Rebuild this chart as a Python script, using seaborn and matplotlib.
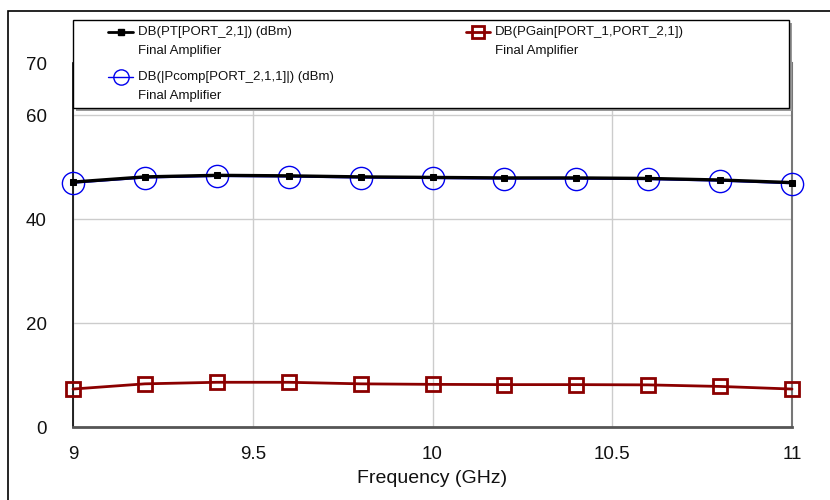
import numpy as np
import pandas as pd
import matplotlib
matplotlib.use("Agg")
import matplotlib.pyplot as plt
import seaborn as sns
from matplotlib.lines import Line2D
from matplotlib.patches import Rectangle

# Data
freq = [9.0, 9.2, 9.4, 9.6, 9.8, 10.0, 10.2, 10.4, 10.6, 10.8, 11.0]
pt_dbm = [47.1, 48.1, 48.4, 48.3, 48.1, 48.0, 47.9, 47.9, 47.8, 47.5, 47.0]
pcomp_dbm = [46.9, 47.9, 48.2, 48.1, 47.9, 47.8, 47.7, 47.7, 47.6, 47.3, 46.8]
pgain_db = [7.3, 8.3, 8.6, 8.6, 8.3, 8.2, 8.15, 8.15, 8.1, 7.8, 7.3]

series_names = ["DB(PT[PORT_2,1]) (dBm)",
                "DB(|Pcomp[PORT_2,1,1]|) (dBm)",
                "DB(PGain[PORT_1,PORT_2,1])"]
source_name = "Final Amplifier"
xticks = [9, 9.5, 10, 10.5, 11]
xticklabels = ["9", "9.5", "10", "10.5", "11"]
yticks = [0, 20, 40, 60, 70]

df = pd.DataFrame({"freq": freq, "pt": pt_dbm, "pcomp": pcomp_dbm, "pgain": pgain_db})

sns.set_style("white")
plt.rcParams['font.family'] = ['Liberation Sans', 'DejaVu Sans']

W, H = 830, 500
fig = plt.figure(figsize=(8.3, 5.0), dpi=100)
ax = fig.add_axes([73 / W, 1 - 427 / H, 719 / W, (427 - 63) / H])

blue = "#0000ee"
red = "#8b0000"

sns.lineplot(data=df, x="freq", y="pgain", ax=ax, color=red, lw=2,
             marker="s", markersize=10, markerfacecolor="none",
             markeredgecolor=red, markeredgewidth=2, zorder=3, clip_on=False)
sns.lineplot(data=df, x="freq", y="pcomp", ax=ax, color=blue, lw=1,
             marker="o", markersize=16, markerfacecolor="none",
             markeredgecolor=blue, markeredgewidth=1, zorder=3, clip_on=False)
sns.lineplot(data=df, x="freq", y="pt", ax=ax, color="black", lw=2.4,
             marker="s", markersize=5, markerfacecolor="black",
             markeredgecolor="black", zorder=4, clip_on=False)

ax.set_xlim(9, 11)
ax.set_ylim(0, 70)
ax.set_xticks(xticks)
ax.set_xticklabels(xticklabels)
ax.set_yticks(yticks)
ax.tick_params(axis="both", labelsize=13.5, direction="out", length=16,
               width=1.3, color="#555555", pad=3, labelcolor="#111111")
ax.tick_params(axis="x", length=8, pad=6)
ax.grid(True, color="#cccccc", lw=1)
ax.spines["top"].set_visible(False)
ax.spines["left"].set_color("black")
ax.spines["left"].set_linewidth(1.2)
ax.spines["bottom"].set_color("#555555")
ax.spines["bottom"].set_linewidth(2)
ax.spines["right"].set_color("#777777")
ax.spines["right"].set_linewidth(1.5)
ax.set_xlabel("Frequency (GHz)", fontsize=14, labelpad=5, color="#111111")
ax.set_ylabel("")

# legend box (drawn by hand, as in the original tool)
def fx(px):
    return px / W

def fy(py):
    return 1 - py / H

fig.patches.append(Rectangle((fx(76), fy(111)), fx(716), 88 / H,
                             transform=fig.transFigure, facecolor="#999999",
                             edgecolor="none", zorder=9))
fig.patches.append(Rectangle((fx(73), fy(108)), fx(716), 88 / H,
                             transform=fig.transFigure, facecolor="white",
                             edgecolor="black", lw=1, zorder=10))

entries = [
    (series_names[0], 108, 133, 32, "black", 2,
     dict(marker="s", markersize=4, markerfacecolor="black",
          markeredgecolor="black")),
    (series_names[1], 108, 133, 77, blue, 1,
     dict(marker="o", markersize=11, markerfacecolor="none",
          markeredgecolor=blue)),
    (series_names[2], 466, 490, 32, red, 2,
     dict(marker="s", markersize=8, markerfacecolor="none",
          markeredgecolor=red, markeredgewidth=2)),
]
for name, x0, x1, y0, col, lw, mstyle in entries:
    fig.add_artist(Line2D([fx(x0), fx(x1)], [fy(y0), fy(y0)], color=col,
                          lw=lw, transform=fig.transFigure, zorder=11))
    fig.add_artist(Line2D([fx((x0 + x1) / 2)], [fy(y0)], lw=0,
                          transform=fig.transFigure, zorder=11, **mstyle))
    fig.text(fx(x1 + 5), fy(y0), name, fontsize=9.5, va="center",
             ha="left", zorder=12, color="#111111")
    fig.text(fx(x1 + 5), fy(y0 + 19), source_name, fontsize=9.5,
             va="center", ha="left", zorder=12, color="#111111")

# outer frame
fig.patches.append(Rectangle((fx(8), -0.1), 1.2, fy(11) + 0.1,
                             transform=fig.transFigure, fill=False,
                             edgecolor="black", lw=1.2))

fig.savefig("out.png", dpi=100)
